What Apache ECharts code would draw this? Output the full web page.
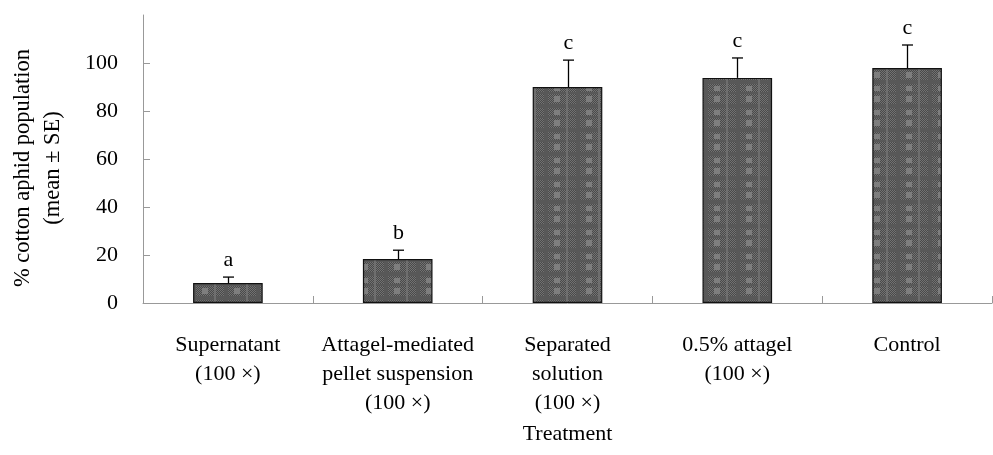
<!DOCTYPE html>
<html><head><meta charset="utf-8">
<script src="https://cdn.jsdelivr.net/npm/echarts@6/dist/echarts.min.js"></script>
<style>html,body{margin:0;padding:0;background:#fff}#c{width:993px;height:455px}</style>
</head><body><div id="c"></div>
<script>
const categories = ['Supernatant\n(100 ×)', 'Attagel-mediated\npellet suspension\n(100 ×)', 'Separated\nsolution\n(100 ×)', '0.5% attagel\n(100 ×)', 'Control'];
const means = [8.3, 18.3, 90.0, 93.8, 97.9];
const errUpper = [10.8, 22.0, 101.2, 102.1, 107.5];
const letters = ['a', 'b', 'c', 'c', 'c'];
const yTicks = [0, 20, 40, 60, 80, 100];
const yTitle = '% cotton aphid population\n(mean ± SE)';

// plaid-like pattern fill
function makePattern() {
  const c = document.createElement('canvas');
  c.width = 32; c.height = 24;
  const g = c.getContext('2d');
  for (let y = 0; y < 24; y++) for (let x = 0; x < 32; x++) {
    g.fillStyle = ((x + y) % 2) ? '#4a4a4a' : '#727272';
    g.fillRect(x, y, 1, 1);
  }
  g.fillStyle = 'rgba(88,88,88,0.9)';
  g.fillRect(0, 8, 32, 4);
  g.fillRect(0, 20, 32, 2);
  g.fillRect(0, 0, 4, 24);
  g.fillStyle = 'rgba(130,130,130,0.9)';
  g.fillRect(10, 0, 6, 6);
  g.fillRect(10, 14, 6, 5);
  g.fillStyle = 'rgba(115,115,115,0.8)';
  g.fillRect(22, 0, 2, 24);
  return c;
}

const font = 'Liberation Serif';
const chart = echarts.init(document.getElementById('c'));
chart.setOption({
  animation: false,
  textStyle: { fontFamily: font },
  grid: { left: 143, right: 1, top: 15, bottom: 152, outerBoundsMode: 'none', containLabel: false },
  graphic: [{
    type: 'text', x: 38, y: 168, rotation: Math.PI / 2,
    style: { text: yTitle, fontFamily: font, fontSize: 22.5, lineHeight: 30, fill: '#000', align: 'center', verticalAlign: 'middle' }
  }],
  xAxis: {
    type: 'category', data: categories,
    name: 'Treatment', nameLocation: 'middle', nameGap: 120,
    nameTextStyle: { fontFamily: font, fontSize: 22, color: '#000' },
    axisLine: { lineStyle: { color: '#999', width: 1 } },
    axisTick: { show: true, inside: true, length: 7, lineStyle: { color: '#999' } },
    axisLabel: { fontFamily: font, fontSize: 22, color: '#000', lineHeight: 29, margin: 28, verticalAlign: 'top', interval: 0 }
  },
  yAxis: {
    type: 'value', min: 0, max: 120, interval: 20,
    axisLine: { show: true, lineStyle: { color: '#999', width: 1 } },
    axisTick: { show: true, inside: true, length: 7, lineStyle: { color: '#999' }, customValues: yTicks },
    axisLabel: { fontFamily: font, fontSize: 22, color: '#000', margin: 25, customValues: yTicks },
    splitLine: { show: false }
  },
  series: [
    {
      type: 'bar', data: means, barWidth: '41%',
      itemStyle: { color: { image: makePattern(), repeat: 'repeat' }, borderColor: '#111', borderWidth: 1.2 },
      z: 2
    },
    {
      type: 'custom', z: 3,
      data: means.map((m, i) => [i, m, errUpper[i]]),
      renderItem: function (params, api) {
        const i = api.value(0);
        const p0 = api.coord([i, api.value(1)]);
        const p1 = api.coord([i, api.value(2)]);
        const x = Math.round(p0[0]) + 0.5;
        return {
          type: 'group',
          children: [
            { type: 'line', shape: { x1: x, y1: p0[1], x2: x, y2: p1[1] }, style: { stroke: '#000', lineWidth: 1.3 } },
            { type: 'line', shape: { x1: x - 5.5, y1: p1[1], x2: x + 5.5, y2: p1[1] }, style: { stroke: '#000', lineWidth: 1.3 } },
            { type: 'text', x: x, y: p1[1] - 6, style: { text: letters[params.dataIndex], fontFamily: font, fontSize: 22, fill: '#000', align: 'center', verticalAlign: 'bottom' } }
          ]
        };
      }
    }
  ]
});
</script></body></html>
